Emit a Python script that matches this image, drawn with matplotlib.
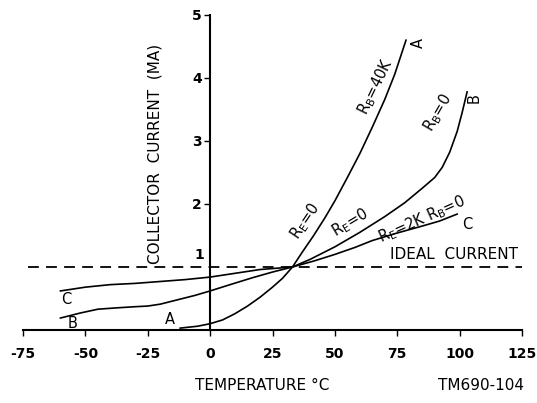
import matplotlib.pyplot as plt

# curve A (R_E=0, R_B=40K)
a_x = [-12, -5, 0, 5, 10, 15, 20, 25, 29, 33, 37, 41.5, 46, 50, 55, 60, 65, 70, 74, 78.5]
a_y = [0.03, 0.06, 0.1, 0.16, 0.26, 0.38, 0.52, 0.68, 0.82, 1.0, 1.24, 1.5, 1.78, 2.05, 2.42, 2.8, 3.22, 3.66, 4.06, 4.6]

# curve B (R_E=0, R_B=0)
b_x = [-60, -52, -45, -38, -30, -25, -20, -13, -6, 0, 8, 17, 25, 33, 40, 50, 60, 70, 78, 85, 90, 93, 96, 99, 101, 103]
b_y = [0.19, 0.27, 0.33, 0.35, 0.37, 0.38, 0.41, 0.48, 0.55, 0.62, 0.72, 0.83, 0.92, 1.0, 1.12, 1.32, 1.55, 1.8, 2.02, 2.25, 2.42, 2.58, 2.82, 3.15, 3.45, 3.78]

# curve C (R_E=2K, R_B=0)
c_x = [-60, -50, -40, -30, -20, -10, 0, 10, 20, 33, 42, 50, 58, 65, 75, 85, 92, 99]
c_y = [0.62, 0.68, 0.72, 0.74, 0.77, 0.8, 0.84, 0.9, 0.96, 1.0, 1.1, 1.2, 1.31, 1.42, 1.54, 1.65, 1.73, 1.84]

ideal_x = [-73, 125]
ideal_y = [1, 1]

x_ticks = [-75, -50, -25, 0, 25, 50, 75, 100, 125]
y_ticks = [2, 3, 4, 5]

fig = plt.figure(figsize=(5.37, 4.03), dpi=100)
ax = fig.add_axes([23/537, 1 - 330/403, (522 - 23)/537, (330 - 15)/403])

ax.plot(a_x, a_y, color='black', lw=1.2)
ax.plot(b_x, b_y, color='black', lw=1.2)
ax.plot(c_x, c_y, color='black', lw=1.2)
ax.plot(ideal_x, ideal_y, color='black', lw=1.3, dashes=(6, 4))

ax.set_xlim(-75, 125)
ax.set_ylim(0, 5)
ax.spines['top'].set_visible(False)
ax.spines['right'].set_visible(False)
ax.spines['left'].set_position(('data', 0))
ax.spines['left'].set_linewidth(1.5)
ax.spines['bottom'].set_linewidth(1.5)

ax.set_xticks(x_ticks)
ax.set_xticklabels([str(t) for t in x_ticks], fontsize=10, fontweight='bold')
ax.set_yticks(y_ticks)
ax.set_yticklabels([str(t) for t in y_ticks], fontsize=10, fontweight='bold')
ax.tick_params(axis='x', length=4, width=1, pad=8)
ax.tick_params(axis='y', length=4, width=1, pad=2)

lab = dict(fontsize=10.5, color='black', ha='center', va='center')
ax.text(-4.5, 1.08, '1', fontsize=10, fontweight='bold', ha='center', va='bottom')
ax.text(-22, 2.8, 'COLLECTOR  CURRENT  (MA)', rotation=90, fontsize=11,
        ha='center', va='center')
ax.text(66.5, 3.86, r'R$_\mathregular{B}$=40K', rotation=64, **lab)
ax.text(38.3, 1.73, r'R$_\mathregular{E}$=0', rotation=56, **lab)
ax.text(91.5, 3.44, r'R$_\mathregular{B}$=0', rotation=60, **lab)
ax.text(56, 1.70, r'R$_\mathregular{E}$=0', rotation=31, **lab)
ax.text(84.7, 1.76, r'R$_\mathregular{E}$=2K R$_\mathregular{B}$=0', rotation=24, **lab)
ax.text(97.6, 1.2, 'IDEAL  CURRENT', fontsize=11, ha='center', va='center')
ax.text(83.5, 4.55, 'A', rotation=90, **lab)
ax.text(106, 3.68, 'B', rotation=90, **lab)
ax.text(103, 1.68, 'C', **lab)
ax.text(-57.7, 0.48, 'C', **lab)
ax.text(-55, 0.1, 'B', **lab)
ax.text(-16, 0.16, 'A', **lab)

fig.text(262/537, 1 - 385/403, 'TEMPERATURE °C', fontsize=11, ha='center', va='center')
fig.text(481/537, 1 - 385/403, 'TM690-104', fontsize=11, ha='center', va='center')

fig.savefig('out.png', dpi=100, facecolor='white')
